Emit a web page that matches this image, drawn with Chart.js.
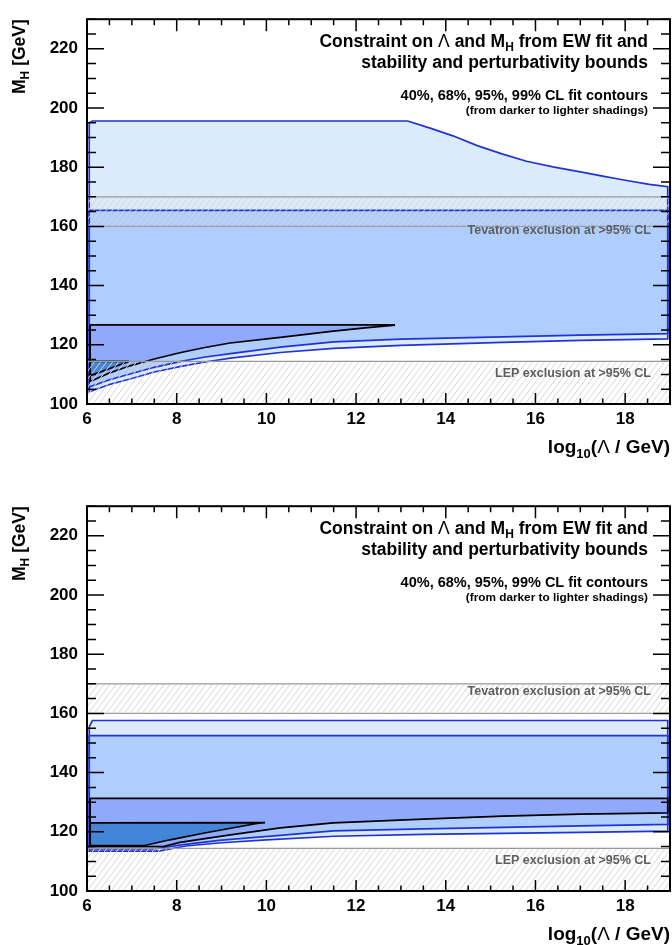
<!DOCTYPE html>
<html>
<head>
<meta charset="utf-8">
<script src="https://cdn.jsdelivr.net/npm/chart.js@4.4.0/dist/chart.umd.min.js"></script>
<style>
  html, body { margin: 0; padding: 0; background: #fff; overflow: hidden; }
  #wrap { position: relative; width: 672px; height: 945px; overflow: hidden; }
  canvas { position: absolute; left: 0; }
</style>
</head>
<body>
<div id="wrap">
  <canvas id="top-chart" width="672" height="487" style="top:0"></canvas>
  <canvas id="bottom-chart" width="672" height="487" style="top:487px"></canvas>
</div>
<script>
// axis ticks
const xTicks = [6, 8, 10, 12, 14, 16, 18];
const yTicks = [100, 120, 140, 160, 180, 200, 220];

// exclusion bands (GeV)
const lepLimit = 114.4;
const tevatronLow = 160;
const tevatronHigh = 170;

// top panel contours, [log10(Lambda), MH]
const top99Upper = [[6.05, 195.0], [6.12, 195.6], [13.15, 195.6], [13.65, 193.2], [14.16, 190.6], [14.7, 187.3], [15.27, 184.4], [15.8, 182.0], [16.39, 180.1], [17.0, 178.4], [17.5, 177.0], [18.0, 175.6], [18.54, 174.2], [18.95, 173.4]];
const top99Lower = [[6.05, 104.1], [6.5, 106.6], [7.0, 108.6], [7.5, 110.8], [8.07, 112.6], [8.6, 114.1], [9.2, 115.5], [10.31, 117.4], [11.5, 118.8], [13.0, 119.8], [15.27, 120.8], [17.0, 121.5], [18.95, 122.0]];
const top95Upper = [[6.05, 165.4], [18.95, 165.4]];
const top95Lower = [[6.05, 105.7], [6.5, 108.2], [7.0, 110.3], [7.5, 112.4], [8.07, 114.3], [8.6, 115.8], [9.2, 117.0], [10.31, 119.2], [11.5, 121.0], [13.0, 121.9], [15.27, 122.7], [17.0, 123.3], [18.95, 123.8]];
const top68Upper = [[6.07, 126.7], [12.85, 126.7]];
const top68Lower = [[6.07, 107.6], [6.5, 110.5], [6.96, 112.9], [7.5, 115.2], [8.07, 117.3], [8.6, 119.0], [9.19, 120.6], [10.31, 122.5], [11.49, 124.6], [12.2, 125.7], [12.85, 126.6]];
const top40Upper = [[6.07, 114.4], [6.92, 114.4]];
const top40Lower = [[6.07, 109.5], [6.92, 114.3]];

// bottom panel contours
const bot99Upper = [[6.05, 155.5], [6.12, 157.6], [18.95, 157.6]];
const bot99Lower = [[6.05, 113.5], [7.6, 113.5], [8.2, 115.2], [9.0, 116.3], [10.0, 117.3], [11.5, 118.5], [13.5, 119.1], [15.27, 119.5], [17.0, 119.8], [18.95, 120.2]];
const bot95Upper = [[6.05, 152.5], [18.95, 152.5]];
const bot95Lower = [[6.05, 114.2], [7.5, 114.2], [8.1, 115.6], [9.0, 117.2], [10.31, 118.8], [11.49, 120.3], [13.5, 121.0], [15.27, 121.5], [17.0, 122.0], [18.95, 122.5]];
const bot68Upper = [[6.07, 131.3], [18.95, 131.3]];
const bot68Lower = [[6.07, 115.0], [7.7, 115.0], [8.07, 116.4], [9.12, 118.8], [10.31, 121.3], [11.49, 123.0], [13.5, 124.3], [15.27, 125.3], [17.0, 126.0], [18.95, 126.4]];
const bot40Upper = [[6.07, 123.0], [9.97, 123.1]];
const bot40Lower = [[6.07, 115.3], [7.26, 115.3], [7.85, 117.3], [8.59, 119.5], [9.79, 122.8], [9.97, 123.1]];

const FONT = '"Liberation Sans", Arial, Helvetica, sans-serif';
const BLUE_LINE = "#1f33d8";

function makeHatch() {
  const c = document.createElement("canvas");
  c.width = 6;
  c.height = 8;
  const g = c.getContext("2d");
  g.strokeStyle = "#d6d6d6";
  g.lineWidth = 1;
  for (const dx of [-6, 0, 6]) {
    g.beginPath();
    g.moveTo(dx, 8);
    g.lineTo(dx + 6, 0);
    g.stroke();
  }
  return g.createPattern(c, "repeat");
}

function contour(upper, lower, color, border, order) {
  const pts = upper.concat(lower.slice().reverse());
  pts.push(upper[0]);
  return {
    data: pts.map(([x, y]) => ({ x, y })),
    fill: "shape",
    backgroundColor: color,
    borderColor: border,
    borderWidth: 1.7,
    pointRadius: 0,
    tension: 0,
    order,
  };
}

function flatLine(y) {
  return [{ x: 6, y }, { x: 19, y }];
}

// text with subscripts, parts = [text, size, dy, weight]
function drawParts(ctx, parts, x, y) {
  const fontOf = (p) => (p[3] || "bold") + " " + p[1] + "px " + FONT;
  let w = 0;
  for (const p of parts) {
    ctx.font = fontOf(p);
    w += ctx.measureText(p[0]).width;
  }
  let cx = x - w;
  for (const p of parts) {
    ctx.font = fontOf(p);
    ctx.fillText(p[0], cx, y + (p[2] || 0));
    cx += ctx.measureText(p[0]).width;
  }
}

function labelsPlugin(tevBase, lepBase) {
  return {
    id: "labels",
    afterDatasetsDraw(chart) {
      const { ctx, chartArea } = chart;
      const r = chartArea.right;
      ctx.save();
      ctx.textAlign = "left";
      ctx.textBaseline = "alphabetic";
      ctx.fillStyle = "#000";
      drawParts(ctx, [["Constraint on ", 17.5], ["\u039B", 17.5, 0, "normal"], [" and M", 17.5], ["H", 12, 4], [" from EW fit and", 17.5]], r - 22, 47);
      drawParts(ctx, [["stability and perturbativity bounds", 17.5]], r - 22, 68);
      drawParts(ctx, [["40%, 68%, 95%, 99% CL fit contours", 14.5]], r - 22, 100);
      drawParts(ctx, [["(from darker to lighter shadings)", 11.8]], r - 22, 114);
      ctx.fillStyle = "#5e5e5e";
      drawParts(ctx, [["Tevatron exclusion at >95% CL", 12.5]], r - 19, tevBase);
      drawParts(ctx, [["LEP exclusion at >95% CL", 12.5]], r - 19, lepBase);
      ctx.restore();
    },
  };
}

const framePlugin = {
  id: "frame",
  afterDraw(chart) {
    const { ctx, chartArea } = chart;
    const { left, right, top, bottom } = chartArea;
    const xs = chart.scales.x;
    const ys = chart.scales.y;
    ctx.save();
    ctx.strokeStyle = "#000";
    ctx.lineWidth = 1.5;
    ctx.beginPath();
    for (let v = 100; v <= 230; v += 5) {
      const y = ys.getPixelForValue(v);
      const len = v % 20 === 0 ? 17 : 9;
      ctx.moveTo(left, y);
      ctx.lineTo(left + len, y);
      ctx.moveTo(right, y);
      ctx.lineTo(right - len, y);
    }
    for (let v = 6; v <= 19; v += 0.5) {
      const x = xs.getPixelForValue(v);
      const major = v % 2 === 0;
      ctx.moveTo(x, bottom);
      ctx.lineTo(x, bottom - (major ? 11 : 5.5));
      ctx.moveTo(x, top);
      ctx.lineTo(x, top + (major ? 12 : 6));
    }
    ctx.stroke();
    ctx.lineWidth = 2;
    ctx.strokeRect(left, top, right - left, bottom - top);

    // axis titles
    ctx.fillStyle = "#000";
    ctx.textBaseline = "alphabetic";
    drawParts(ctx, [["log", 19], ["10", 13, 5], ["(", 19], ["\u039B", 19, 0, "normal"], [" / GeV)", 19]], right, 453);
    ctx.translate(25, top);
    ctx.rotate(-Math.PI / 2);
    drawParts(ctx, [["M", 17.5], ["H", 12, 4], [" [GeV]", 17.5]], 0, 0);
    ctx.restore();
  },
};

function buildChart(canvas, sets, tevBase, lepBase) {
  const hatch = makeHatch();
  const tick = { family: FONT, size: 17, weight: "bold" };
  return new Chart(canvas, {
    type: "line",
    data: {
      datasets: [
        { data: flatLine(tevatronHigh), fill: "+1", backgroundColor: hatch, borderColor: "#999", borderWidth: 1.2, pointRadius: 0, order: 1 },
        { data: flatLine(tevatronLow), fill: false, borderColor: "#999", borderWidth: 1.2, pointRadius: 0, order: 1 },
        { data: flatLine(lepLimit), fill: "start", backgroundColor: hatch, borderColor: "#999", borderWidth: 1.2, pointRadius: 0, order: 2 },
        contour(sets[6], sets[7], "#4386d8", "#000", 7),
        contour(sets[4], sets[5], "#8faafa", "#000", 8),
        contour(sets[2], sets[3], "#afcdfd", BLUE_LINE, 9),
        contour(sets[0], sets[1], "#dcebfc", BLUE_LINE, 10),
      ],
    },
    options: {
      responsive: false,
      animation: false,
      devicePixelRatio: 1,
      layout: { padding: { top: 12, right: 2, left: 0, bottom: 0 } },
      plugins: { legend: { display: false }, tooltip: { enabled: false } },
      scales: {
        x: {
          type: "linear",
          min: 6,
          max: 19,
          grid: { display: false, drawTicks: false },
          border: { display: false },
          afterBuildTicks: (s) => { s.ticks = xTicks.map((v) => ({ value: v })); },
          afterFit: (s) => { s.height = 83; },
          ticks: { font: tick, color: "#000", padding: 5, maxRotation: 0, autoSkip: false },
        },
        y: {
          type: "linear",
          min: 100,
          max: 230,
          grid: { display: false, drawTicks: false },
          border: { display: false },
          afterBuildTicks: (s) => { s.ticks = yTicks.map((v) => ({ value: v })); },
          afterFit: (s) => { s.width = 87; },
          ticks: { font: tick, color: "#000", padding: 9, autoSkip: false },
        },
      },
    },
    plugins: [labelsPlugin(tevBase, lepBase), framePlugin],
  });
}

buildChart(document.getElementById("top-chart"),
  [top99Upper, top99Lower, top95Upper, top95Lower, top68Upper, top68Lower, top40Upper, top40Lower], 234, 377);
buildChart(document.getElementById("bottom-chart"),
  [bot99Upper, bot99Lower, bot95Upper, bot95Lower, bot68Upper, bot68Lower, bot40Upper, bot40Lower], 208, 377);
</script>
</body>
</html>
